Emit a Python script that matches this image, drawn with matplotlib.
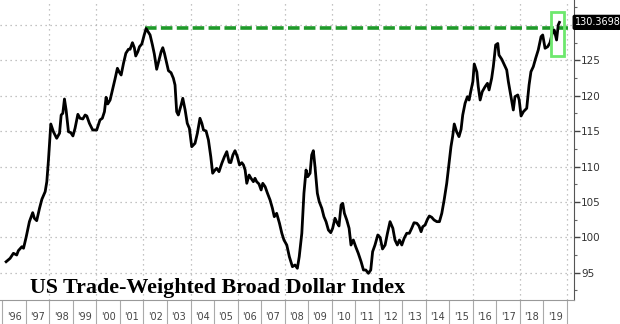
import numpy as np
import matplotlib
matplotlib.use("Agg")
import matplotlib.pyplot as plt

# trade-weighted broad dollar index (decimal year, level)
years = [1996.16, 1996.33, 1996.47, 1996.61, 1996.68, 1996.83, 1996.90, 1997.01, 1997.15, 1997.29,
         1997.36, 1997.46, 1997.58, 1997.68, 1997.82, 1997.89, 1997.96, 1998.06, 1998.17, 1998.31,
         1998.43, 1998.50, 1998.57, 1998.64, 1998.71, 1998.81, 1998.91, 1999.00, 1999.09, 1999.21,
         1999.30, 1999.42, 1999.52, 1999.59, 1999.70, 1999.84, 2000.01, 2000.15, 2000.25, 2000.34,
         2000.41, 2000.48, 2000.58, 2000.68, 2000.79, 2000.89, 2000.96, 2001.05, 2001.15, 2001.25,
         2001.36, 2001.43, 2001.53, 2001.61, 2001.67, 2001.76, 2001.83, 2001.93, 2002.03, 2002.11,
         2002.21, 2002.28, 2002.38, 2002.46, 2002.56, 2002.66, 2002.75, 2002.82, 2002.89, 2002.97,
         2003.06, 2003.17, 2003.27, 2003.34, 2003.41, 2003.48, 2003.60, 2003.67, 2003.77, 2003.86,
         2003.95, 2004.05, 2004.19, 2004.29, 2004.40, 2004.48, 2004.55, 2004.66, 2004.76, 2004.86,
         2004.94, 2005.04, 2005.11, 2005.21, 2005.33, 2005.44, 2005.54, 2005.64, 2005.71, 2005.80,
         2005.89, 2005.99, 2006.08, 2006.18, 2006.25, 2006.32, 2006.39, 2006.49, 2006.57, 2006.67,
         2006.74, 2006.81, 2006.91, 2007.00, 2007.07, 2007.17, 2007.27, 2007.38, 2007.48, 2007.56,
         2007.66, 2007.78, 2007.88, 2007.97, 2008.09, 2008.20, 2008.33, 2008.44, 2008.54, 2008.62,
         2008.73, 2008.82, 2008.91, 2008.98, 2009.08, 2009.15, 2009.22, 2009.29, 2009.39, 2009.47,
         2009.58, 2009.67, 2009.76, 2009.86, 2009.96, 2010.04, 2010.14, 2010.24, 2010.31, 2010.40,
         2010.47, 2010.54, 2010.64, 2010.74, 2010.82, 2010.92, 2011.02, 2011.13, 2011.25, 2011.35,
         2011.45, 2011.56, 2011.66, 2011.74, 2011.84, 2011.96, 2012.06, 2012.16, 2012.27, 2012.37,
         2012.48, 2012.60, 2012.69, 2012.79, 2012.88, 2012.98, 2013.08, 2013.19, 2013.30, 2013.40,
         2013.50, 2013.62, 2013.71, 2013.80, 2013.87, 2013.97, 2014.07, 2014.15, 2014.25, 2014.35,
         2014.47, 2014.58, 2014.68, 2014.78, 2014.89, 2014.99, 2015.07, 2015.14, 2015.21, 2015.31,
         2015.41, 2015.50, 2015.57, 2015.67, 2015.77, 2015.84, 2015.91, 2016.00, 2016.06, 2016.17,
         2016.23, 2016.31, 2016.40, 2016.52, 2016.62, 2016.69, 2016.80, 2016.87, 2016.97, 2017.06,
         2017.11, 2017.23, 2017.34, 2017.44, 2017.51, 2017.62, 2017.72, 2017.79, 2017.91, 2017.97,
         2018.05, 2018.15, 2018.29, 2018.39, 2018.47, 2018.57, 2018.67, 2018.78, 2018.90, 2018.97,
         2019.07, 2019.18, 2019.28, 2019.38, 2019.46, 2019.56, 2019.63, 2019.68]
index = [96.55, 97.03, 97.74, 97.50, 98.11, 98.67, 98.45, 100.00, 102.21, 103.48,
         102.69, 102.35, 104.10, 105.37, 106.45, 107.86, 110.92, 116.01, 114.92, 113.99,
         114.70, 117.28, 117.52, 119.54, 117.99, 114.92, 114.78, 114.32, 115.40, 117.38,
         116.82, 116.72, 117.28, 117.14, 116.11, 115.16, 115.16, 116.58, 116.82, 117.75,
         119.78, 118.84, 119.40, 120.82, 122.37, 123.88, 123.40, 122.93, 124.59, 126.00,
         126.57, 126.57, 127.50, 126.79, 125.62, 126.23, 126.93, 127.32, 128.59, 129.50,
         128.97, 128.59, 127.17, 125.90, 123.74, 125.05, 126.23, 126.79, 126.00, 124.81,
         123.54, 123.26, 122.47, 121.52, 117.75, 117.28, 118.70, 119.64, 117.99, 116.11,
         115.40, 112.80, 113.28, 114.70, 116.82, 116.11, 115.16, 115.02, 113.75, 111.39,
         109.05, 109.51, 109.75, 109.27, 110.46, 111.39, 112.10, 110.60, 110.55, 111.63,
         112.24, 111.39, 110.22, 110.54, 110.22, 109.51, 107.63, 108.80, 108.34, 107.86,
         108.34, 107.86, 107.53, 106.69, 107.63, 107.15, 106.22, 105.27, 104.10, 102.91,
         103.39, 101.98, 100.57, 99.62, 98.91, 97.26, 95.85, 96.09, 95.62, 97.26,
         100.57, 106.22, 109.51, 108.56, 109.05, 111.63, 112.24, 109.98, 106.22, 105.03,
         104.10, 102.91, 102.21, 101.03, 100.65, 101.27, 102.69, 101.98, 101.60, 104.57,
         104.80, 103.39, 102.45, 101.27, 98.91, 99.62, 98.67, 97.74, 96.55, 95.38,
         95.38, 94.91, 95.38, 97.97, 98.91, 100.33, 99.97, 98.35, 98.91, 100.57,
         102.21, 101.27, 99.62, 98.91, 99.62, 98.91, 99.86, 100.57, 100.57, 101.27,
         102.06, 101.98, 101.60, 100.79, 101.50, 101.74, 102.54, 103.01, 102.83, 102.45,
         102.21, 102.21, 103.39, 105.27, 107.63, 110.46, 112.80, 114.22, 116.01, 114.92,
         114.22, 115.26, 117.28, 118.94, 119.87, 119.40, 120.58, 121.99, 124.49, 123.36,
         121.28, 119.40, 120.58, 121.28, 121.76, 120.82, 122.47, 124.11, 127.17, 127.39,
         125.76, 125.15, 124.35, 123.64, 121.99, 119.87, 117.99, 119.87, 120.11, 119.40,
         117.14, 117.75, 118.23, 121.52, 123.40, 124.11, 125.29, 126.47, 128.35, 128.59,
         126.71, 126.93, 127.50, 128.91, 129.29, 127.88, 130.00, 130.37]

last_value = 130.3698
prior_high = 129.6
year_labels = ["'96", "'97", "'98", "'99", "'00", "'01", "'02", "'03", "'04", "'05", "'06", "'07",
               "'08", "'09", "'10", "'11", "'12", "'13", "'14", "'15", "'16", "'17", "'18", "'19"]
y_ticks = [95, 100, 105, 110, 115, 120, 125, 130]

fig = plt.figure(figsize=(6.2, 3.24), dpi=100)
ax = fig.add_axes([0.0, 24 / 324, 574 / 620, 300 / 324])

ax.set_xlim(1995.9, 2020.3)
ax.set_ylim(91.14, 133.53)

# dotted grid: every 5 index points, every second year
for v in y_ticks:
    ax.axhline(v, color="#b0b0b0", lw=0.9, ls=(0, (1, 3)), zorder=0)
for yr in range(1998, 2021, 2):
    ax.axvline(yr, color="#b0b0b0", lw=0.9, ls=(0, (1, 3)), zorder=0)

ax.plot(years, index, color="black", lw=2.0, zorder=3)

# previous high carried forward
ax.plot([2002.08, 2020.04], [prior_high, prior_high], color="#1f9a2a", lw=2.6,
        ls=(0, (3.2, 1.2)), zorder=2)

# highlight box around the latest move
ax.add_patch(plt.Rectangle((2019.32, 125.62), 0.55, 6.26, fill=False,
                           edgecolor="#6ee86e", lw=2.0, zorder=4))

# spines
for s in ["left", "top"]:
    ax.spines[s].set_visible(False)
ax.spines["right"].set_color("#555555")
ax.spines["bottom"].set_color("#999999")

# y axis on the right
ax.yaxis.tick_right()
ax.set_yticks(y_ticks)
ax.set_yticklabels([str(v) if v < 130 else "" for v in y_ticks])
ax.set_yticks(np.arange(92.5, 133, 5), minor=True)
ax.tick_params(axis="y", which="major", length=4, width=1, color="#444444",
               labelsize=7.5, labelcolor="#333333", pad=1)
ax.tick_params(axis="y", which="minor", length=2.5, width=0.8, color="#666666")

# x axis: dividers at year starts, labels at mid-year
ax.set_xticks(range(1996, 2021))
ax.set_xticklabels([])
ax.set_xticks(np.arange(1996.5, 2020, 1), minor=True)
ax.set_xticklabels(year_labels, minor=True)
ax.tick_params(axis="x", which="major", length=20, width=0.8, color="#aaaaaa")
ax.tick_params(axis="x", which="minor", length=0, labelsize=7, labelcolor="#444444", pad=9)

ax.text(30 / 574, 7 / 300, "US Trade-Weighted Broad Dollar Index", transform=ax.transAxes,
        fontfamily="Liberation Serif", fontweight="bold", fontsize=15.8, va="baseline",
        ha="left", color="black", zorder=5)

# last value tag: pointer triangle plus black label box
ytr = ax.get_yaxis_transform()
ax.plot([1.005], [last_value], marker="<", ms=6, color="black", transform=ytr, clip_on=False)
ax.text(1.042, last_value, f"{last_value:.4f}", transform=ytr,
        color="white", fontsize=7, va="center", ha="center",
        bbox=dict(boxstyle="round,pad=0.2,rounding_size=0.15", facecolor="black",
                  edgecolor="black"))

fig.savefig("out.png", dpi=100)
